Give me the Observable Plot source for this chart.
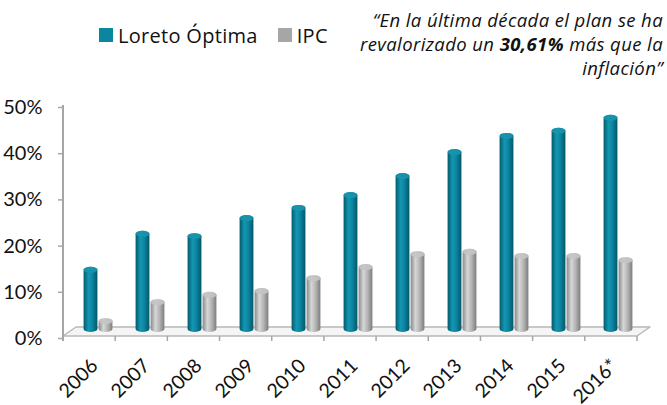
<!DOCTYPE html>
<html>
<head>
<meta charset="utf-8">
<script src="https://cdn.jsdelivr.net/npm/d3@7"></script>
<script src="https://cdn.jsdelivr.net/npm/@observablehq/plot@0.6"></script>
<style>
  body { margin: 0; background: #fff; }
  #wrap { position: relative; width: 667px; height: 405px; font-family: Lato, "Open Sans", sans-serif; color: #111; overflow: hidden; }
  #legend { position: absolute; left: 99px; top: 25px; height: 20px; display: flex; align-items: center; font-family: "Open Sans", sans-serif; font-size: 20px; letter-spacing: 0.3px; white-space: nowrap; }
  #legend .sw { display: inline-block; width: 14px; height: 14px; margin-right: 5px; }
  #legend .item { display: flex; align-items: center; margin-right: 20px; }
  #quote { position: absolute; right: 4px; top: 8px; text-align: right; font-family: "Open Sans", sans-serif; font-style: italic; font-size: 18.5px; letter-spacing: 0.4px; line-height: 24px; white-space: nowrap; }
</style>
</head>
<body>
<div id="wrap">
  <div id="chart"></div>
  <div id="legend"></div>
  <div id="quote">“En la última década el plan se ha<br>revalorizado un <b>30,61%</b> más que la<br>inflación”</div>
</div>
<script>
// ---- data ----
const years = ["2006", "2007", "2008", "2009", "2010", "2011", "2012", "2013", "2014", "2015", "2016*"];
const loreto = [14.1, 21.9, 21.4, 25.3, 27.5, 30.3, 34.4, 39.6, 43.1, 44.2, 47.0];
const ipc = [3.0, 7.1, 8.7, 9.5, 12.3, 14.7, 17.5, 18.0, 17.1, 17.1, 16.2];
const seriesNames = ["Loreto Óptima", "IPC"];
const yTicks = [0, 10, 20, 30, 40, 50];

const tealColor = "#0b86a0";
const greyColor = "#a6a6a6";

const loretoData = years.map((year, i) => ({year, value: loreto[i], series: seriesNames[0]}));
const ipcData = years.map((year, i) => ({year, value: ipc[i], series: seriesNames[1]}));

// legend (HTML)
const legend = document.getElementById("legend");
[[seriesNames[0], tealColor], [seriesNames[1], greyColor]].forEach(([name, col]) => {
  const it = document.createElement("span");
  it.className = "item";
  const sw = document.createElement("span");
  sw.className = "sw";
  sw.style.background = col;
  it.appendChild(sw);
  it.appendChild(document.createTextNode(name));
  legend.appendChild(it);
});

const barW = 14;
const DEPTH_X = 13, DEPTH_Y = 9, LIFT = 4;

function defs() {
  const d = d3.create("svg:defs");
  const t = d.append("linearGradient").attr("id", "gT").attr("x1", 0).attr("x2", 1).attr("y1", 0).attr("y2", 0);
  t.append("stop").attr("offset", "0%").attr("stop-color", "#045a6c");
  t.append("stop").attr("offset", "35%").attr("stop-color", "#1496b1");
  t.append("stop").attr("offset", "60%").attr("stop-color", "#0d88a2");
  t.append("stop").attr("offset", "100%").attr("stop-color", "#03566a");
  const g = d.append("linearGradient").attr("id", "gG").attr("x1", 0).attr("x2", 1).attr("y1", 0).attr("y2", 0);
  g.append("stop").attr("offset", "0%").attr("stop-color", "#8a8a8a");
  g.append("stop").attr("offset", "35%").attr("stop-color", "#d6d6d6");
  g.append("stop").attr("offset", "65%").attr("stop-color", "#b4b4b4");
  g.append("stop").attr("offset", "100%").attr("stop-color", "#7d7d7d");
  return d.node();
}

function floor(index, scales, values, dims) {
  const x0 = dims.marginLeft, x1 = dims.width - dims.marginRight;
  const y0 = scales.y(0), yTop = scales.y(yTicks[yTicks.length - 1]);
  const step = (x1 - x0) / years.length;
  const g = d3.create("svg:g");
  g.append("path")
    .attr("d", `M${x0},${y0}L${x1},${y0}L${x1 + DEPTH_X},${y0 - DEPTH_Y}L${x0 + DEPTH_X},${y0 - DEPTH_Y}Z`)
    .attr("fill", "#f5f5f5").attr("stroke", "#b8b8b8").attr("stroke-width", 1.5).attr("stroke-linejoin", "round");
  g.append("line").attr("x1", x0).attr("x2", x0).attr("y1", yTop).attr("y2", y0 + 5)
    .attr("stroke", "#a6a6a6").attr("stroke-width", 2);
  for (let i = 1; i <= years.length; i++) {
    const x = x0 + i * step;
    g.append("line").attr("x1", x).attr("x2", x).attr("y1", y0).attr("y2", y0 + 5)
      .attr("stroke", "#a6a6a6").attr("stroke-width", 1.5);
  }
  return g.node();
}

function caps(data, insetLeft, color) {
  return (index, scales, values, dims) => {
    const g = d3.create("svg:g");
    data.forEach(d => {
      const xs = scales.x(d.year);
      g.append("ellipse")
        .attr("cx", xs + insetLeft + barW / 2)
        .attr("cy", scales.y(d.value) - LIFT + 3)
        .attr("rx", barW / 2).attr("ry", 3)
        .attr("fill", color).attr("opacity", 0.9);
    });
    return g.node();
  };
}

const W = 667, H = 405, mL = 63, mR = 30;
const band = (W - mL - mR) / years.length;
const tealInsetL = band / 2 - barW / 2 + 0.5;
const ipcInsetL = tealInsetL + 15;

const chart = Plot.plot({
  width: W,
  height: H,
  marginLeft: mL,
  marginRight: mR,
  marginTop: 105,
  marginBottom: 69,
  style: {fontFamily: "Lato, 'Open Sans', sans-serif", color: "#111", background: "transparent", overflow: "visible"},
  x: {type: "band", domain: years, padding: 0, label: null, axis: null},
  y: {domain: [0, 50], ticks: yTicks, label: null},
  marks: [
    defs,
    floor,
    Plot.barY(loretoData, {
      x: "year", y: "value", fill: "url(#gT)",
      insetLeft: tealInsetL, insetRight: band - tealInsetL - barW,
      rx: barW / 2, ry: 3, dy: -LIFT
    }),
    caps(loretoData, tealInsetL, "#1a93ad"),
    Plot.barY(ipcData, {
      x: "year", y: "value", fill: "url(#gG)",
      insetLeft: ipcInsetL, insetRight: band - ipcInsetL - barW,
      rx: barW / 2, ry: 3, dy: -LIFT
    }),
    caps(ipcData, ipcInsetL, "#c4c4c4"),
    Plot.axisY({ticks: yTicks, tickFormat: d => d + "%", tickSize: 5, tickPadding: 16, fontSize: 20,
      stroke: "#a6a6a6", strokeWidth: 1.5, fill: "#111", dy: 2, label: null}),
    Plot.text(years, {x: d => d, text: d => d, frameAnchor: "bottom", rotate: -45,
      textAnchor: "end", lineAnchor: "middle", fontSize: 19.5, fill: "#111", dx: 4, dy: 26})
  ]
});
document.getElementById("chart").appendChild(chart);
</script>
</body>
</html>
